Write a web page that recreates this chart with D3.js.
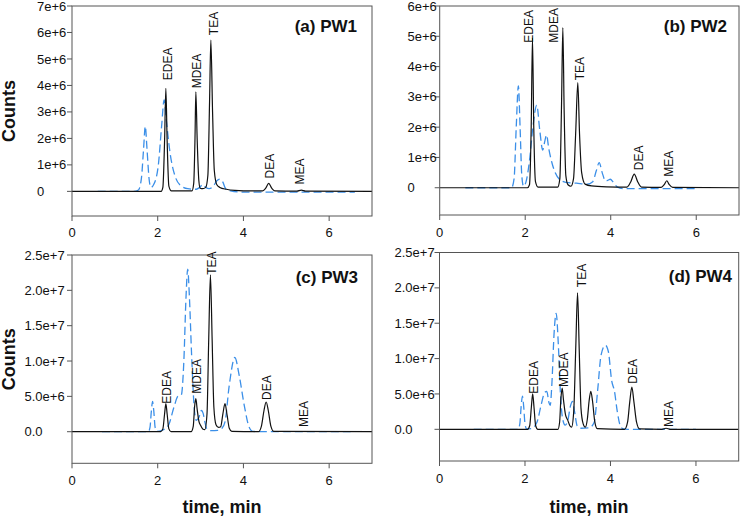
<!DOCTYPE html>
<html><head><meta charset="utf-8">
<script src="https://cdn.jsdelivr.net/npm/d3@7"></script>
<style>body{margin:0;background:#fff}svg{display:block}text{font-family:"Liberation Sans",Arial,sans-serif}</style>
</head><body><svg id="c" width="741" height="520"></svg>
<script>
// time (min), counts in millions ([t, v])
const pw1Standard = [[0,0],[2.08,0],[2.12,0.15],[2.16,1.9],[2.19,3.89],[2.22,1.9],[2.26,0.2],[2.32,0.02],
 [2.80,0.02],[2.84,0.3],[2.87,2.0],[2.89,3.76],[2.92,2.0],[2.96,0.4],[2.99,0.12],[3.05,0.1],[3.12,0.15],
 [3.17,0.6],[3.21,3.4],[3.24,5.71],[3.28,3.0],[3.32,0.8],[3.38,0.25],[3.45,0.15],[3.6,0.08],[3.8,0.04],[4.2,0.02],
 [4.45,0.02],[4.52,0.12],[4.59,0.30],[4.66,0.12],[4.73,0.02],[5.25,0.01],[5.35,0.05],[5.45,0.01],[7,0]];
const pw1Sample = [[0.6,0],[1.45,0],[1.55,0.05],[1.62,0.5],[1.67,1.6],[1.71,2.46],[1.75,1.6],[1.80,0.45],[1.84,0.15],
 [1.90,0.24],[2.01,0.93],[2.09,2.44],[2.15,3.45],[2.20,2.7],[2.29,1.43],[2.41,0.55],[2.52,0.24],[2.7,0.1],[2.9,0.08],
 [2.98,0.15],[3.05,0.26],[3.12,0.15],[3.2,0.1],[3.3,0.2],[3.38,0.4],[3.45,0.46],[3.52,0.35],[3.58,0.12],[3.7,0.02],
 [4.0,-0.03],[6.6,-0.03]];
const pw2Standard = [[0,0],[2.05,0],[2.10,0.1],[2.14,2.0],[2.17,4.95],[2.20,2.0],[2.24,0.2],[2.30,0.02],
 [2.76,0.02],[2.81,0.3],[2.85,2.8],[2.88,5.29],[2.91,2.6],[2.95,0.4],[3.0,0.1],[3.07,0.05],
 [3.13,0.3],[3.18,1.8],[3.23,3.47],[3.27,1.8],[3.32,0.5],[3.40,0.12],[3.55,0.06],[3.9,0.03],
 [4.38,0.02],[4.47,0.2],[4.55,0.45],[4.63,0.2],[4.72,0.02],[5.18,0.01],[5.25,0.1],[5.31,0.23],[5.37,0.1],[5.45,0.01],[7,0]];
const pw2Sample = [[0.6,0],[1.68,0],[1.74,0.3],[1.79,2.0],[1.84,3.36],[1.88,2.0],[1.92,0.4],[1.96,0.05],[2.02,0.2],
 [2.10,0.9],[2.18,2.0],[2.27,2.73],[2.34,1.9],[2.41,1.24],[2.46,1.55],[2.50,1.74],[2.55,1.3],[2.62,0.85],[2.70,0.5],
 [2.80,0.28],[2.95,0.18],[3.2,0.15],[3.45,0.12],[3.58,0.2],[3.66,0.55],[3.73,0.83],[3.80,0.5],[3.88,0.22],[3.94,0.25],
 [3.99,0.28],[4.06,0.18],[4.15,0.03],[4.3,-0.03],[6.0,-0.03]];
const pw3Standard = [[0,0],[2.07,0],[2.12,0.4],[2.16,2.5],[2.19,3.97],[2.22,2.5],[2.26,0.4],[2.31,0],
 [2.78,0],[2.83,0.8],[2.86,3.5],[2.89,4.67],[2.92,3.2],[2.96,1.5],[3.0,0.9],[3.05,0.4],[3.1,0.3],
 [3.15,2.5],[3.19,13],[3.23,22.2],[3.27,13],[3.31,3.5],[3.36,1.0],[3.42,0.6],[3.47,0.7],[3.52,2.5],[3.57,3.97],
 [3.62,2.3],[3.67,0.5],[3.73,0.05],[4.35,0],[4.42,0.8],[4.48,3.0],[4.53,4.2],[4.58,3.0],[4.64,0.8],[4.71,0.05],[7,0]];
const pw3Sample = [[0.7,0],[1.78,0],[1.82,0.6],[1.85,2.8],[1.88,4.3],[1.91,2.8],[1.94,0.6],[1.98,0.05],[2.1,0.2],
 [2.25,0.9],[2.38,3.5],[2.47,5.0],[2.55,5.2],[2.61,10],[2.66,19],[2.70,23.0],[2.74,19],[2.79,11],[2.85,3.5],
 [2.9,1.6],[2.96,2.0],[3.02,3.0],[3.06,2.6],[3.1,1.4],[3.15,0.4],[3.25,0.15],[3.4,0.2],[3.5,0.5],[3.57,1.4],
 [3.67,6.6],[3.80,10.5],[3.90,8.0],[4.02,3.7],[4.13,0.7],[4.22,0.05],[4.4,0],[6.5,0]];
const pw4Standard = [[0,0],[2.06,0],[2.11,0.5],[2.15,3.2],[2.18,5.03],[2.21,3.2],[2.25,0.5],[2.30,0],
 [2.77,0],[2.81,1.0],[2.84,4.3],[2.87,5.83],[2.90,4.2],[2.95,2.0],[3.0,1.3],[3.05,0.5],[3.09,0.3],
 [3.14,2.5],[3.19,12],[3.23,19.3],[3.27,11],[3.31,3.0],[3.36,0.8],[3.41,0.3],[3.46,1.5],[3.50,4.0],[3.54,5.37],
 [3.58,4.0],[3.63,1.2],[3.69,0.1],[4.33,0],[4.40,1.0],[4.45,3.8],[4.50,5.97],[4.55,3.8],[4.61,1.0],[4.68,0.05],
 [5.2,0],[5.3,0.15],[5.4,0],[7,0]];
const pw4Sample = [[0.8,0],[1.84,0],[1.88,0.8],[1.91,3.2],[1.94,4.7],[1.97,3.2],[2.0,0.8],[2.04,0.05],[2.15,0.1],
 [2.28,1.0],[2.38,3.5],[2.46,5.2],[2.51,5.37],[2.56,3.8],[2.59,3.4],[2.63,6.5],[2.68,13.5],[2.73,16.4],[2.78,12],
 [2.83,5],[2.88,1.5],[2.94,0.6],[3.0,1.2],[3.06,3.2],[3.11,3.95],[3.16,2.5],[3.22,0.5],[3.3,0.15],[3.5,0.2],
 [3.62,1.0],[3.70,5.5],[3.78,10.5],[3.88,11.9],[3.95,11.0],[4.03,6.8],[4.09,5.5],[4.16,2.5],[4.23,0.5],[4.3,0.05],[4.4,0],[6,0]];

const peakNames = ["EDEA","MDEA","TEA","DEA","MEA"];
// label anchor [t, v] for each peak name
const pw1Labels = [[2.33,4.2],[3.01,3.89],[3.41,5.9],[4.72,0.49],[5.42,0.26]];
const pw2Labels = [[2.18,4.79],[2.77,4.79],[3.38,3.55],[4.76,0.58],[5.45,0.36]];
const pw3Labels = [[2.32,3.97],[3.02,5.38],[3.37,22.2],[4.65,4.5],[5.51,0.66]];
const pw4Labels = [[2.30,5.03],[3.01,5.97],[3.42,20.1],[4.61,6.44],[5.47,0.32]];

const panelTitles = ["(a) PW1","(b) PW2","(c) PW3","(d) PW4"];
const xTicks = [0,2,4,6];
const yTicksSmall1 = [0,1,2,3,4,5,6,7];
const yLabelsSmall1 = ["0","1e+6","2e+6","3e+6","4e+6","5e+6","6e+6","7e+6"];
const yTicksSmall2 = [0,1,2,3,4,5,6];
const yLabelsSmall2 = ["0","1e+6","2e+6","3e+6","4e+6","5e+6","6e+6"];
const yTicksLarge = [0,5,10,15,20,25];
const yLabelsLarge = ["0.0","5.0e+6","1.0e+7","1.5e+7","2.0e+7","2.5e+7"];

const panels = [
 {std:pw1Standard, smp:pw1Sample, lab:pw1Labels, title:panelTitles[0], L:72, R:372, T:6, B:216, yd:[-0.93,7], yt:yTicksSmall1, yl:yLabelsSmall1, lx:37, tx:357, ty:32, ylab:true, xlab:false, xlby:237},
 {std:pw2Standard, smp:pw2Sample, lab:pw2Labels, title:panelTitles[1], L:439.7, R:739, T:6, B:215, yd:[-0.9,6], yt:yTicksSmall2, yl:yLabelsSmall2, lx:407.5, tx:727, ty:32, ylab:false, xlab:false, xlby:237},
 {std:pw3Standard, smp:pw3Sample, lab:pw3Labels, title:panelTitles[2], L:72, R:372, T:255, B:463.3, yd:[-4.47,25], yt:yTicksLarge, yl:yLabelsLarge, lx:24.5, tx:358, ty:283, ylab:true, xlab:true, xlby:485},
 {std:pw4Standard, smp:pw4Sample, lab:pw4Labels, title:panelTitles[3], L:439.5, R:738.7, T:252.5, B:461, yd:[-4.48,25], yt:yTicksLarge, yl:yLabelsLarge, lx:394.5, tx:732, ty:282, ylab:false, xlab:true, xlby:483}
];

const svg = d3.select("#c");
panels.forEach((p,i)=>{
  const x = d3.scaleLinear().domain([0,7]).range([p.L,p.R]);
  const y = d3.scaleLinear().domain(p.yd).range([p.B,p.T]);
  const g = svg.append("g");
  const cid = "clip"+i;
  svg.append("clipPath").attr("id",cid).append("rect").attr("x",p.L).attr("y",p.T).attr("width",p.R-p.L).attr("height",p.B-p.T);
  const line = d3.line().x(d=>x(d[0])).y(d=>y(d[1])).curve(d3.curveMonotoneX);
  const pl = g.append("g").attr("clip-path",`url(#${cid})`);
  pl.append("path").attr("d",line(p.smp)).attr("fill","none").attr("stroke","#3b8fe8").attr("stroke-width",1.3).attr("stroke-dasharray","8,4");
  pl.append("path").attr("d",line(p.std)).attr("fill","none").attr("stroke","#111").attr("stroke-width",1.2);
  g.append("rect").attr("x",p.L).attr("y",p.T).attr("width",p.R-p.L).attr("height",p.B-p.T).attr("fill","none").attr("stroke","#555").attr("stroke-width",1);
  p.yt.forEach((v,k)=>{
    g.append("line").attr("x1",p.L-5).attr("x2",p.L).attr("y1",y(v)).attr("y2",y(v)).attr("stroke","#555");
    g.append("text").attr("x",p.lx).attr("y",y(v)).attr("dy","0.35em").attr("font-size",13).attr("fill","#111").text(p.yl[k]);
  });
  xTicks.forEach(v=>{
    g.append("line").attr("x1",x(v)).attr("x2",x(v)).attr("y1",p.B).attr("y2",p.B+5).attr("stroke","#555");
    g.append("text").attr("x",x(v)).attr("y",p.xlby).attr("text-anchor","middle").attr("font-size",13).attr("fill","#111").text(v);
  });
  p.lab.forEach((d,k)=>{
    g.append("text").attr("transform",`translate(${x(d[0])},${y(d[1])}) rotate(-90)`).attr("font-size",12).attr("fill","#111").text(peakNames[k]);
  });
  g.append("text").attr("x",p.tx).attr("y",p.ty).attr("text-anchor","end").attr("font-size",17).attr("font-weight","bold").attr("fill","#111").text(p.title);
  if(p.ylab){
    g.append("text").attr("transform",`translate(15,${(p.T+p.B)/2}) rotate(-90)`).attr("text-anchor","middle").attr("font-size",18).attr("font-weight","bold").attr("fill","#111").text("Counts");
  }
  if(p.xlab){
    g.append("text").attr("x",(p.L+p.R)/2).attr("y",513).attr("text-anchor","middle").attr("font-size",18).attr("font-weight","bold").attr("fill","#111").text("time, min");
  }
});
</script></body></html>
